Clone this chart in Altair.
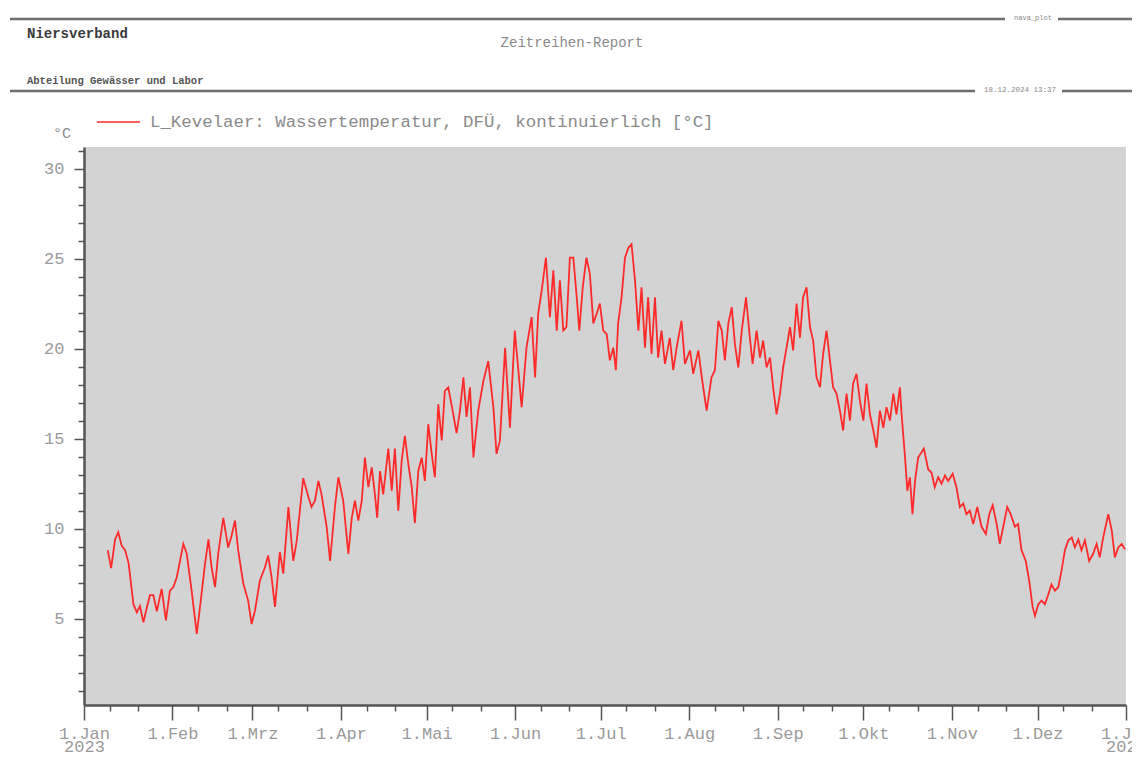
import altair as alt
import pandas as pd

# ---------------- data ----------------
# days since 2023-01-01 00:00 (UTC) and water temperature in °C
day_offset = [
    8.3, 9.5, 10.9, 12.0, 13.2, 14.4, 15.6, 16.5, 17.3, 18.5, 19.6, 20.8, 22.0, 23.1, 24.3, 25.5,
    27.2, 28.7, 30.1, 31.3, 32.5, 34.8, 36.0, 37.7, 39.5, 40.6, 42.4, 43.6, 44.7, 45.9, 47.0, 48.8,
    50.5, 51.7, 52.9, 54.0, 55.8, 57.5, 58.7, 59.9, 61.6, 63.4, 64.5, 65.7, 66.9, 68.6, 69.8, 71.6,
    73.3, 74.5, 76.8, 78.6, 79.7, 80.9, 82.1, 83.2, 85.0, 86.2, 87.9, 89.1, 90.8, 92.6, 93.8, 94.9,
    96.1, 97.3, 98.4, 99.6, 100.8, 101.9, 102.7, 103.7, 104.8, 106.6, 107.8, 108.9, 110.1, 111.3,
    112.4, 113.6, 114.8, 115.9, 117.1, 118.3, 119.4, 120.6, 121.8, 122.9, 124.1, 125.3, 126.4,
    127.6, 129.3, 130.5, 131.7, 132.9, 134.0, 135.2, 136.4, 138.1, 139.9, 141.6, 143.4, 144.5,
    145.7, 147.5, 149.2, 150.9, 153.3, 155.0, 156.8, 158.0, 159.1, 160.3, 161.8, 163.2, 164.4,
    165.6, 166.7, 167.9, 169.0, 170.2, 171.4, 172.6, 173.5, 174.7, 176.0, 177.2, 178.4, 179.6,
    180.7, 181.9, 183.1, 184.2, 185.4, 186.3, 187.1, 188.3, 189.5, 190.7, 191.8, 193.0, 194.2,
    195.3, 196.5, 197.6, 198.8, 200.0, 201.1, 202.3, 203.5, 205.2, 206.4, 207.6, 209.3, 210.5,
    212.3, 213.4, 215.2, 216.4, 218.1, 219.8, 221.0, 222.2, 223.4, 224.5, 225.7, 226.9, 228.0,
    229.2, 230.4, 231.9, 233.0, 234.2, 235.6, 236.8, 237.9, 239.1, 240.3, 241.4, 242.6, 243.8,
    244.9, 246.1, 247.3, 248.4, 249.6, 250.8, 251.9, 253.1, 254.3, 255.4, 256.6, 257.8, 258.9,
    260.1, 261.3, 262.4, 263.6, 264.8, 265.9, 267.1, 268.3, 269.4, 270.6, 271.8, 273.0, 274.1,
    275.3, 276.5, 277.6, 278.8, 280.0, 281.1, 282.3, 283.5, 284.6, 285.8, 286.4, 287.6, 288.4,
    289.3, 290.2, 291.1, 292.2, 294.2, 295.7, 296.9, 298.0, 299.2, 300.4, 301.6, 302.7, 304.3,
    305.6, 306.8, 308.0, 309.1, 310.3, 311.5, 312.9, 314.4, 315.9, 317.1, 318.3, 319.7, 320.8,
    322.0, 323.4, 324.6, 326.1, 327.2, 328.4, 329.9, 331.1, 332.3, 333.1, 334.3, 335.4, 336.6,
    337.8, 338.9, 340.1, 341.3, 342.4, 343.6, 344.8, 346.0, 347.1, 348.3, 349.4, 350.6, 352.1,
    353.5, 354.7, 355.8, 357.0, 358.8, 360.0, 361.1, 362.3, 363.5, 364.6,
]
temperature = [
    8.8, 7.8, 9.4, 9.8, 9.05, 8.8, 8.1, 6.9, 5.8, 5.35, 5.7, 4.8, 5.6, 6.3, 6.3, 5.4,
    6.65, 4.9, 6.55, 6.75, 7.3, 9.15, 8.6, 6.55, 4.15, 5.6, 8.05, 9.4, 7.85, 6.75, 8.6, 10.6,
    8.95, 9.6, 10.45, 8.8, 6.95, 6.0, 4.7, 5.45, 7.1, 7.85, 8.5, 7.3, 5.65, 8.7, 7.5, 11.2,
    8.2, 9.3, 12.8, 11.75, 11.2, 11.55, 12.65, 11.9, 10.1, 8.2, 11.2, 12.85, 11.55, 8.6, 10.6, 11.55,
    10.45, 11.55, 13.95, 12.3, 13.4, 11.9, 10.6, 13.2, 11.9, 14.45, 12.1, 14.45, 11.0, 13.8,
    15.15, 13.6, 12.3, 10.3, 13.2, 13.95, 12.65, 15.8, 14.15, 12.85, 16.9, 14.9, 17.65,
    17.85, 16.4, 15.3, 16.55, 18.4, 16.2, 17.85, 13.95, 16.55, 18.2, 19.3, 16.75, 14.15,
    14.9, 20.05, 15.6, 21.0, 16.75, 20.05, 21.75, 18.4, 21.95, 23.2, 25.05, 21.75, 24.35,
    21.0, 23.8, 21.0, 21.2, 25.05, 25.05, 22.85, 21.0, 23.4, 25.05, 24.15, 21.4, 21.95,
    22.5, 21.0, 20.8, 19.35, 20.05, 18.8, 21.4, 22.85, 25.05, 25.6, 25.8, 23.8, 21.0,
    23.4, 20.05, 22.85, 19.7, 22.85, 19.5, 21.0, 19.15, 20.6, 18.8, 20.05, 21.55, 19.15,
    19.9, 18.6, 19.9, 18.4, 16.55, 18.4, 18.8, 21.55, 21.0, 19.35, 21.4, 22.3, 20.25,
    18.95, 21.0, 22.85, 21.0, 19.15, 21.0, 19.5, 20.45, 18.95, 19.5, 17.85, 16.35, 17.5,
    18.95, 20.05, 21.2, 19.9, 22.5, 20.6, 22.85, 23.4, 21.2, 20.45, 18.4, 17.85, 19.7,
    21.0, 19.35, 17.85, 17.5, 16.55, 15.45, 17.5, 16.0, 18.05, 18.6, 17.1, 16.0, 18.05,
    16.35, 15.45, 14.5, 16.55, 15.6, 16.75, 16.0, 17.5, 16.35, 17.85, 16.35, 13.95, 12.1,
    12.85, 10.8, 12.65, 13.95, 14.45, 13.3, 13.1, 12.3, 12.85, 12.5, 12.95, 12.65, 13.05,
    12.3, 11.2, 11.4, 10.8, 11.0, 10.25, 11.2, 10.1, 9.7, 10.8, 11.3, 10.25, 9.15,
    10.1, 11.2, 10.8, 10.1, 10.25, 8.8, 8.2, 7.1, 5.65, 5.15, 5.8, 6.0, 5.8,
    6.35, 6.9, 6.55, 6.75, 7.65, 8.8, 9.35, 9.5, 8.95, 9.4, 8.8, 9.35, 8.2,
    8.6, 9.15, 8.4, 9.5, 10.8, 9.9, 8.4, 8.95, 9.15, 8.85,
]

month_names = ["Jan", "Feb", "Mrz", "Apr", "Mai", "Jun", "Jul", "Aug", "Sep", "Okt", "Nov", "Dez"]
y_ticks = list(range(1, 32))

series_name = "L_Kevelaer: Wassertemperatur, DFÜ, kontinuierlich [°C]"

# ---------------- build table ----------------
base = pd.Timestamp("2023-01-01")
times = [(base + pd.to_timedelta(d, unit="D")).strftime("%Y-%m-%dT%H:%M:%SZ") for d in day_offset]
df = pd.DataFrame({"t": times, "v": temperature})

x_tick_values = []
for m in range(1, 13):
    for d in (1, 10, 20):
        x_tick_values.append(alt.DateTime(year=2023, month=m, date=d, utc=True))
x_tick_values.append(alt.DateTime(year=2024, month=1, date=1, utc=True))

month_js = "[" + ",".join("'%s'" % m for m in month_names) + "]"
x_label_expr = (
    "utcdate(datum.value) == 1 ? (utcmonth(datum.value) == 0 ? "
    "['1.' + %s[0], '' + utcyear(datum.value)] : '1.' + %s[utcmonth(datum.value)]) : ''"
    % (month_js, month_js)
)

FONT = "Liberation Mono"
AX = "#555555"
LBL = "#9a9a9a"
RED = "#ff2a2a"

x_axis = alt.Axis(
    values=x_tick_values,
    labelExpr=x_label_expr,
    tickSize={"condition": {"test": "utcdate(datum.value) == 1", "value": 15}, "value": 6},
    tickColor=AX, tickWidth=1.5, domainColor=AX, domainWidth=2.5,
    labelFont=FONT, labelFontSize=17, labelColor=LBL, labelAngle=0,
    labelAlign="center", labelBaseline="top", labelPadding=5, labelLineHeight=13,
    labelFlush=False, labelOverlap=False, grid=False, title=None,
)
y_axis = alt.Axis(
    values=y_ticks,
    labelExpr="datum.value % 5 == 0 ? datum.label : ''",
    tickSize={"condition": {"test": "datum.value % 5 == 0", "value": 10}, "value": 6},
    tickColor=AX, tickWidth=1.5, domainColor=AX, domainWidth=2.5,
    labelFont=FONT, labelFontSize=17, labelColor=LBL, labelPadding=10,
    labelFlush=False, labelOverlap=False, grid=False, title=None,
)

line = alt.Chart(df).mark_line(color=RED, strokeWidth=1.8, clip=True).encode(
    x=alt.X("t:T", scale=alt.Scale(type="utc", domain=[
        alt.DateTime(year=2023, month=1, date=1, utc=True),
        alt.DateTime(year=2024, month=1, date=1, utc=True)]), axis=x_axis),
    y=alt.Y("v:Q", scale=alt.Scale(domain=[0.2, 31.2], nice=False, zero=False), axis=y_axis),
)

one = alt.Data(values=[{}])


def rule(x1, x2, y, color, width):
    return alt.Chart(one).mark_rule(color=color, strokeWidth=width).encode(
        x=alt.value(x1), x2=alt.value(x2), y=alt.value(y))


def text(s, x, y, size, color, align="left", weight="normal"):
    return alt.Chart(one).mark_text(
        text=s, font=FONT, fontSize=size, color=color, align=align,
        baseline="middle", fontWeight=weight,
    ).encode(x=alt.value(x), y=alt.value(y))


HDR = "#6e6e6e"
layers = [
    rule(-74, 921, -128, HDR, 2.5),
    rule(974, 1060, -128, HDR, 2.5),
    rule(-74, 891, -56, HDR, 2.5),
    rule(978, 1060, -56, HDR, 2.5),
    text("nava_plot", 949, -129, 7, "#888888", align="center"),
    text("18.12.2024 13:37", 936, -57, 7.5, "#888888", align="center"),
    text("Niersverband", -57, -113, 14, "#3a3a3a", weight="bold"),
    text("Zeitreihen-Report", 488, -104, 14, "#8a8a8a", align="center"),
    text("Abteilung Gewässer und Labor", -57, -66, 10.5, "#555555", weight="bold"),
    rule(13, 56, -25, RED, 1.5),
    text(series_name, 66, -25, 17.4, "#8a8a8a"),
    text("°C", -22, -14, 15, "#8a8a8a", align="center"),
]

chart = alt.layer(line, *layers).properties(
    width=1042,
    height=558,
    padding={"left": 76, "top": 139, "right": 6, "bottom": 49},
    autosize=alt.AutoSizeParams(type="none"),
    background="white",
).configure_view(fill="#d3d3d3", stroke=None)

chart.save("out.html", embed_options={"renderer": "svg", "actions": False})
